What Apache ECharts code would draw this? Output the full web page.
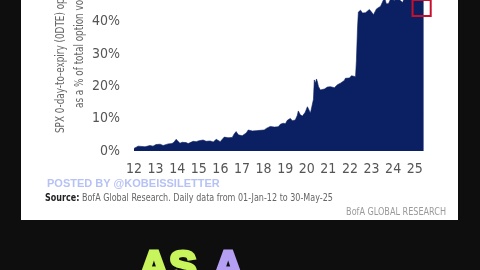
<!DOCTYPE html>
<html>
<head>
<meta charset="utf-8">
<script src="https://cdn.jsdelivr.net/npm/echarts@6/dist/echarts.min.js"></script>
<style>
html,body{margin:0;padding:0;background:#0e0e0e;}
#c{width:480px;height:270px;}
</style>
</head>
<body>
<div id="c"></div>
<script>
// ---- data ----
var dates = [2012.00,2012.09,2012.19,2012.28,2012.37,2012.51,2012.60,2012.74,2012.88,2013.02,2013.11,2013.21,2013.35,2013.44,2013.58,2013.67,2013.76,2013.86,2013.95,2014.04,2014.13,2014.23,2014.32,2014.41,2014.51,2014.60,2014.74,2014.88,2015.02,2015.11,2015.20,2015.34,2015.43,2015.53,2015.67,2015.81,2015.90,2015.99,2016.08,2016.18,2016.27,2016.36,2016.45,2016.55,2016.64,2016.73,2016.83,2016.92,2017.01,2017.10,2017.20,2017.29,2017.38,2017.48,2017.57,2017.66,2017.75,2017.85,2017.94,2018.03,2018.13,2018.22,2018.31,2018.40,2018.50,2018.59,2018.68,2018.78,2018.87,2018.91,2019.01,2019.10,2019.19,2019.24,2019.33,2019.42,2019.47,2019.56,2019.61,2019.70,2019.80,2019.84,2019.93,2020.03,2020.12,2020.17,2020.26,2020.31,2020.35,2020.40,2020.45,2020.49,2020.54,2020.63,2020.72,2020.82,2020.86,2020.96,2021.05,2021.10,2021.19,2021.28,2021.33,2021.42,2021.47,2021.56,2021.65,2021.74,2021.79,2021.88,2021.98,2022.07,2022.16,2022.26,2022.30,2022.35,2022.39,2022.49,2022.58,2022.63,2022.72,2022.81,2022.90,2023.00,2023.09,2023.18,2023.23,2023.32,2023.42,2023.51,2023.60,2023.69,2023.79,2023.88,2023.97,2024.07,2024.11,2024.20,2024.25,2024.34,2024.44,2024.53,2024.62,2024.71,2024.81,2024.90,2024.99,2025.09,2025.18,2025.27,2025.36,2025.41];
var shares = [0.8,1.0,1.5,1.6,1.4,1.3,1.8,1.7,1.5,2.0,1.8,2.1,1.7,1.9,2.2,2.6,2.3,2.8,3.6,3.0,2.4,2.7,3.1,2.6,2.3,2.7,3.0,2.9,3.2,2.9,3.4,3.0,3.2,3.1,2.8,3.6,3.3,2.9,3.5,4.3,4.4,4.1,4.6,4.2,5.3,6.0,5.0,5.0,4.7,5.3,5.6,6.5,6.0,6.2,5.9,6.3,6.2,6.4,6.8,6.5,7.0,7.2,7.6,8.0,7.4,7.8,7.5,8.3,8.0,8.6,8.4,9.5,9.2,10.1,9.4,9.9,9.6,11.0,12.4,11.2,10.8,11.1,12.0,13.7,12.5,11.7,11.7,16.0,22.0,21.0,22.3,21.5,20.0,18.9,19.4,19.2,19.4,19.8,19.5,19.9,20.2,19.6,19.4,20.5,20.0,21.0,20.7,21.8,22.5,22.0,22.6,23.3,22.9,23.0,28.0,38.0,43.0,43.6,42.7,43.2,42.8,42.7,43.8,43.0,42.2,42.4,44.0,43.7,44.8,44.6,47.5,45.5,45.7,47.0,47.5,46.6,46.0,47.5,48.0,46.5,46.0,47.5,48.5,49.0,48.0,49.0,50.0,51.0,50.0,52.0,51.0,52.0];
var yTicks = [0, 10, 20, 30, 40];
var highlightX = [2024.90, 2025.74];
var highlightY = [41.8, 60];
var yTitle1 = 'SPX 0-day-to-expiry (0DTE) options volume';
var yTitle2 = 'as a % of total option volume';
var posted = 'POSTED BY @KOBEISSILETTER';
var sourceLabel = 'Source:';
var sourceText = ' BofA Global Research. Daily data from 01-Jan-12 to 30-May-25';
var brand = 'BofA GLOBAL RESEARCH';
var bigWord1 = 'AS';
var bigWord2 = 'A';

var NARROW = '"Liberation Sans Narrow", "DejaVu Sans Condensed", "Liberation Sans", sans-serif';
var BIG = '"Liberation Sans", Arial, sans-serif';

var seriesData = dates.map(function (d, i) { return [d, shares[i]]; });

var chart = echarts.init(document.getElementById('c'), null, {renderer: 'canvas'});
chart.setOption({
  backgroundColor: '#0e0e0e',
  animation: false,
  grid: {left: 134, right: 48, top: 0, bottom: 119, containLabel: false},
  xAxis: {
    type: 'value', min: 2012, max: 2025.8, interval: 1,
    axisLine: {show: false}, axisTick: {show: false}, splitLine: {show: false},
    axisLabel: {
      color: '#555', fontSize: 14, fontFamily: NARROW, margin: 11,
      formatter: function (v) { return Math.abs(v - Math.round(v)) < 1e-6 ? String(Math.round(v) % 100) : ''; }
    }
  },
  yAxis: {
    type: 'value', min: 0, max: 46.75, interval: 10,
    axisLine: {show: false}, axisTick: {show: false}, splitLine: {show: false},
    axisLabel: {
      color: '#555', fontSize: 14, fontFamily: NARROW, margin: 14,
      formatter: function (v) { return yTicks.indexOf(v) >= 0 ? v + '%' : ''; }
    }
  },
  series: [{
    type: 'line', data: seriesData, symbol: 'none', clip: true,
    lineStyle: {width: 0.6, color: '#0b2062'},
    areaStyle: {color: '#0b2062', opacity: 1},
    markArea: {
      silent: true, z: 5,
      itemStyle: {color: 'rgba(0,0,0,0)', borderColor: '#c8102e', borderWidth: 2},
      data: [[{coord: [highlightX[0], highlightY[0]]}, {coord: [highlightX[1], highlightY[1]]}]]
    }
  }],
  graphic: [
    {type: 'rect', z: -10, shape: {x: 21, y: -10, width: 437, height: 230}, style: {fill: '#ffffff'}},
    {type: 'text', x: 61, y: 133, rotation: Math.PI / 2, scaleX: 0.82,
      style: {text: yTitle1, fill: '#666', font: '12px ' + NARROW, textAlign: 'left', textVerticalAlign: 'middle'}},
    {type: 'text', x: 80, y: 108, rotation: Math.PI / 2, scaleX: 0.82,
      style: {text: yTitle2, fill: '#666', font: '12px ' + NARROW, textAlign: 'left', textVerticalAlign: 'middle'}},
    {type: 'text', x: 47, y: 184,
      style: {text: posted, fill: '#b6c2f5', font: 'bold 11px "Liberation Sans", sans-serif', textVerticalAlign: 'middle'}},
    {type: 'text', x: 45, y: 198, scaleX: 0.85,
      style: {text: '{b|' + sourceLabel + '}{r|' + sourceText + '}', textVerticalAlign: 'middle',
        rich: {b: {fontWeight: 'bold', fontSize: 10.5, fontFamily: NARROW, fill: '#222'},
               r: {fontSize: 10.5, fontFamily: NARROW, fill: '#666'}}}},
    {type: 'text', x: 446, y: 212, scaleX: 0.9,
      style: {text: brand, fill: '#9a9a9a', font: '10px ' + NARROW, textAlign: 'right', textVerticalAlign: 'middle'}},
    {type: 'text', x: 191, y: 247,
      style: {text: '{g|' + bigWord1 + '}{s| }{p|' + bigWord2 + '}', textAlign: 'center', textVerticalAlign: 'top',
        rich: {g: {fontSize: 42, fontWeight: 'bold', fontFamily: BIG, fill: '#c8f45c', stroke: '#c8f45c', lineWidth: 3},
               s: {fontSize: 42, width: 16},
               p: {fontSize: 42, fontWeight: 'bold', fontFamily: BIG, fill: '#b59ff3', stroke: '#b59ff3', lineWidth: 3}}}}
  ]
});
</script>
</body>
</html>
